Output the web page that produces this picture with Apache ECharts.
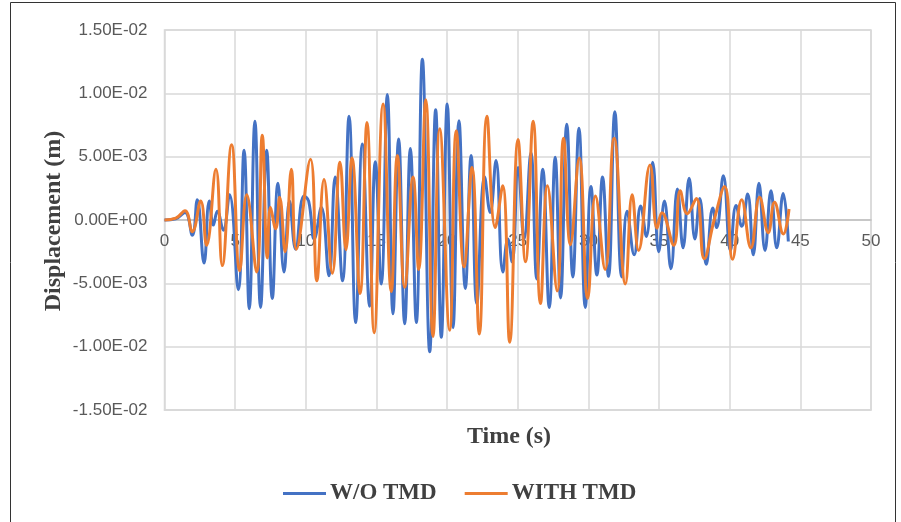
<!DOCTYPE html>
<html><head><meta charset="utf-8">
<script src="https://cdn.jsdelivr.net/npm/echarts@6/dist/echarts.min.js"></script>
<style>html,body{margin:0;padding:0;background:#fff}#c{width:901px;height:522px}</style>
</head><body><div id="c"></div>
<script>
// Time (s) and displacement (x1e-3 m) at the turning points
const blueT = [0,0.8,1.45,1.97,2.32,2.8,3.17,3.46,3.74,4.16,4.6,5.22,5.63,6.0,6.4,6.8,7.23,7.63,8.03,8.46,8.85,9.28,9.87,10.2,10.6,11.1,11.64,12.08,12.6,13.06,13.53,14.0,14.52,14.92,15.34,15.77,16.17,16.57,17.0,17.4,17.82,18.25,18.77,19.19,19.59,20.01,20.42,20.84,21.29,21.7,22.1,22.66,23.05,23.46,23.95,24.3,24.6,25.03,25.45,25.93,26.35,26.77,27.23,27.65,28.03,28.47,28.9,29.33,29.78,30.18,30.6,31.0,31.42,31.87,32.36,32.74,33.24,33.7,34.1,34.55,34.98,35.38,35.84,36.3,36.7,37.13,37.54,37.88,38.34,38.8,39.08,39.55,40.05,40.45,40.85,41.27,41.67,42.07,42.5,42.92,43.33,43.79,44.15];
const blueV = [0,0.1,0.6,-1.2,1.6,-3.4,1.5,-0.4,0.7,-0.8,2.0,-5.5,5.5,-7.0,7.8,-6.9,5.5,-6.2,2.9,-4.1,1.5,-2.3,1.9,1.5,-1.5,1.0,-4.4,3.4,-4.8,8.2,-8.1,6.0,-6.8,4.6,-5.05,9.9,-7.4,6.4,-8.2,5.65,-8.1,12.7,-10.4,8.7,-9.26,9.15,-8.5,7.84,-5.4,5.1,-6.6,3.4,0.6,4.7,-4.1,-1.5,-3.3,4.15,-1.5,5.3,-4.65,4.0,-6.9,4.95,-6.15,7.55,-4.5,7.25,-6.9,2.65,-4.35,3.4,-4.45,8.55,-4.5,0.7,-2.75,1.1,-1.3,4.55,-2.5,1.5,-3.85,2.45,-2.2,3.3,-1.5,1.7,-3.5,0.95,-0.6,3.5,-2.4,1.15,-0.5,2.05,-2.75,2.9,-2.4,2.3,-2.2,2.1,-1.7];
const orangeT = [0,0.8,1.45,1.97,2.56,2.98,3.64,4.09,4.75,5.32,5.82,6.52,6.92,7.28,7.5,7.87,8.15,8.54,8.98,9.33,10.33,10.78,11.29,11.88,12.42,12.84,13.27,13.84,14.33,14.84,15.47,16.05,16.48,17.0,17.59,17.99,18.49,19.0,19.48,20.18,20.65,21.2,21.76,22.28,22.82,23.41,23.93,24.43,25.02,25.55,26.09,26.61,27.1,27.79,28.24,28.73,29.35,29.95,30.5,31.18,31.82,32.62,33.1,33.55,34.36,34.86,35.2,36.04,36.5,37.0,37.64,38.2,38.9,39.64,40.2,40.85,41.5,42.12,42.73,43.17,43.8,44.2];
const orangeV = [0,0.15,0.74,-0.92,1.5,-2.0,4.0,-3.6,5.95,-4.0,2.0,-4.1,6.7,-3.0,1.0,-0.7,1.8,-2.5,4.0,-2.3,4.8,-4.8,3.2,-4.2,4.55,-2.35,4.9,-5.8,7.7,-8.9,9.15,-5.65,5.1,-5.3,3.4,-3.9,9.5,-9.2,7.2,-8.7,7.05,-3.7,4.15,-9.0,8.2,-0.6,2.7,-9.65,6.35,-3.3,7.8,-6.6,2.7,-5.6,6.45,-1.95,4.9,-6.2,1.9,-3.9,6.45,-5.05,2.0,-2.4,4.35,-0.65,0.58,-2.0,2.3,0.5,1.7,-3.05,0.0,2.65,-3.1,1.6,-2.2,1.8,-1.0,1.4,-1.1,0.87];
const seriesNames = ['W/O TMD','WITH TMD'];
const xTitle = 'Time (s)';
const yTitle = 'Displacement (m)';

function pairs(t, v){ return t.map((x,i)=>[x, v[i]*1e-3]); }
function fmt(v){
  if (Math.abs(v) < 1e-12) return '0.00E+00';
  const e = Math.floor(Math.log10(Math.abs(v)) + 1e-9);
  const m = v / Math.pow(10, e);
  return m.toFixed(2) + 'E' + (e < 0 ? '-' : '+') + String(Math.abs(e)).padStart(2,'0');
}
const gridTop = 30, gridBottom = 112, H = 522;
const chart = echarts.init(document.getElementById('c'), null, {renderer:'canvas'});
chart.setOption({
  animation:false,
  backgroundColor:'#fff',
  grid:{left:164.5, right:30, top:gridTop, bottom:gridBottom, show:true, borderColor:'#d9d9d9', borderWidth:1.5},
  xAxis:[{type:'value', min:0, max:50, interval:5,
    axisLine:{show:true, onZero:false, lineStyle:{color:'#d9d9d9', width:1.5}},
    axisTick:{show:false}, axisLabel:{show:false},
    splitLine:{lineStyle:{color:'#d9d9d9', width:1.5}}},
   {type:'value', min:0, max:50, interval:5, position:'bottom',
    offset:-(H - gridTop - gridBottom)/2,
    axisLine:{show:true, onZero:false, lineStyle:{color:'#bfbfbf', width:1.5}},
    axisTick:{show:false},
    axisLabel:{color:'#595959', fontSize:17, fontFamily:'Liberation Sans', margin:13},
    splitLine:{show:false}}],
  yAxis:{type:'value', min:-0.015, max:0.015, interval:0.005,
    axisLine:{show:false}, axisTick:{show:false},
    axisLabel:{color:'#595959', fontSize:17, fontFamily:'Liberation Sans', margin:17, formatter:fmt},
    splitLine:{lineStyle:{color:'#d9d9d9', width:1.5}}},
  legend:{left:278, top:477, itemWidth:43, itemHeight:3, itemGap:28, icon:'rect',
    textStyle:{fontFamily:'Liberation Serif', fontWeight:'bold', fontSize:23, color:'#404040', padding:[0,0,0,-1]},
    data:seriesNames},
  series:[
    {name:seriesNames[0], type:'line', xAxisIndex:0, data:pairs(blueT, blueV), smooth:0.45, showSymbol:false,
     lineStyle:{color:'#4472C4', width:3}, itemStyle:{color:'#4472C4'}},
    {name:seriesNames[1], type:'line', xAxisIndex:0, data:pairs(orangeT, orangeV), smooth:0.45, showSymbol:false,
     lineStyle:{color:'#ED7D31', width:3}, itemStyle:{color:'#ED7D31'}}
  ],
  graphic:[
    {type:'rect', left:8, top:0, shape:{width:885, height:520}, style:{fill:'none', stroke:'#333', lineWidth:1}, silent:true},
    {type:'text', x:509, y:437, style:{text:xTitle, font:'bold 24px "Liberation Serif"', fill:'#404040', align:'center', verticalAlign:'middle'}},
    {type:'text', x:54, y:221, rotation:Math.PI/2, style:{text:yTitle, font:'bold 24px "Liberation Serif"', fill:'#404040', align:'center', verticalAlign:'middle'}}
  ]
});
</script></body></html>
